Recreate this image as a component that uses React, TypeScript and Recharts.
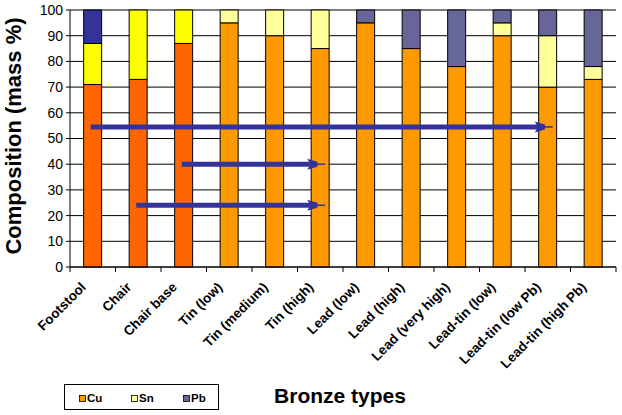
import React from 'react';
import { BarChart, Bar, XAxis, YAxis, CartesianGrid, ReferenceLine, Cell } from 'recharts';

const categories = [
  'Footstool', 'Chair', 'Chair base', 'Tin (low)', 'Tin (medium)', 'Tin (high)',
  'Lead (low)', 'Lead (high)', 'Lead (very high)', 'Lead-tin (low)', 'Lead-tin (low Pb)', 'Lead-tin (high Pb)',
];
const groups = ['object', 'object', 'object', 'ref', 'ref', 'ref', 'ref', 'ref', 'ref', 'ref', 'ref', 'ref'];
const cuValues = [71, 73, 87, 95, 90, 85, 95, 85, 78, 90, 70, 73];
const snValues = [16, 27, 13, 5, 10, 15, 0, 0, 0, 5, 20, 5];
const pbValues = [13, 0, 0, 0, 0, 0, 5, 15, 22, 5, 10, 22];
const seriesNames = ['Cu', 'Sn', 'Pb'];
const yTicks = [0, 10, 20, 30, 40, 50, 60, 70, 80, 90, 100];
const arrows = [
  { from: 'Footstool', to: 'Lead-tin (low Pb)', level: 54.5 },
  { from: 'Chair base', to: 'Tin (high)', level: 40 },
  { from: 'Chair', to: 'Tin (high)', level: 24 },
];

const palette: Record<string, Record<string, string>> = {
  object: { Cu: '#FF6600', Sn: '#FFFF00', Pb: '#333399' },
  ref: { Cu: '#FF9900', Sn: '#FFFF99', Pb: '#666699' },
};
const legendColors: Record<string, string> = { Cu: '#FF9900', Sn: '#FFFF99', Pb: '#666699' };
const ARROW = '#333399';
const FONT = 'Arial, "Liberation Sans", sans-serif';

const data = categories.map((name, i) => ({
  name,
  group: groups[i],
  Cu: cuValues[i],
  Sn: snValues[i],
  Pb: pbValues[i],
}));

const XTick = (props: any) => {
  const { x, y, payload, index, width } = props;
  const w = typeof width === 'number' && width > 0 ? width : 545;
  const band = w / categories.length;
  const left = x - band / 2;
  const ax = x - 6;
  const ay = y + 21;
  return (
    <g>
      <line x1={left} y1={y} x2={left} y2={y + 5} stroke="#000" strokeWidth={1} />
      {index === categories.length - 1 && (
        <line x1={x + band / 2} y1={y} x2={x + band / 2} y2={y + 5} stroke="#000" strokeWidth={1} />
      )}
      <text
        x={ax}
        y={ay}
        transform={`rotate(-45, ${ax}, ${ay})`}
        textAnchor="end"
        fontSize={13.5}
        fontWeight="bold"
        fontFamily={FONT}
        fill="#000"
      >
        {payload.value}
      </text>
    </g>
  );
};

const ArrowShape = (props: any) => {
  const { x1, y1, x2 } = props;
  const y = y1;
  const tip = x2 + 5;
  return (
    <g>
      <line x1={x1 - 2} y1={y} x2={tip - 8} y2={y} stroke={ARROW} strokeWidth={5} />
      <polygon
        points={`${tip - 18},${y - 5.5} ${tip - 8},${y - 2.5} ${tip - 8},${y + 2.5} ${tip - 18},${y + 5.5} ${tip - 15},${y}`}
        fill={ARROW}
      />
      <line x1={tip - 9} y1={y} x2={tip} y2={y} stroke={ARROW} strokeWidth={1.5} />
    </g>
  );
};

export default function App() {
  return (
    <div style={{ position: 'absolute', left: 0, top: 0, width: 622, height: 415, background: '#fff' }}>
      <BarChart
        width={622}
        height={415}
        data={data}
        margin={{ top: 10, right: 6, left: 0, bottom: 0 }}
        barCategoryGap="30%"
      >
        <CartesianGrid vertical={false} stroke="#000" strokeWidth={1} />
        <XAxis
          dataKey="name"
          interval={0}
          height={148}
          tickLine={false}
          tickSize={0}
          tickMargin={0}
          axisLine={{ stroke: '#000' }}
          tick={<XTick />}
        />
        <YAxis
          domain={[0, 100]}
          ticks={yTicks}
          width={70}
          tickSize={4}
          tickMargin={3}
          interval={0}
          axisLine={{ stroke: '#000' }}
          tickLine={{ stroke: '#000' }}
          tick={{ fill: '#000', fontSize: 14, fontFamily: FONT }}
        />
        <YAxis
          yAxisId="right"
          orientation="right"
          width={0}
          tick={false}
          tickLine={false}
          axisLine={{ stroke: '#808080' }}
        />
        {seriesNames.map((s) => (
          <Bar key={s} dataKey={s} stackId="a" stroke="#000" strokeWidth={1} isAnimationActive={false}>
            {data.map((d, i) => (
              <Cell key={i} fill={palette[d.group][s]} />
            ))}
          </Bar>
        ))}
        {arrows.map((a, i) => (
          <ReferenceLine
            key={i}
            segment={[
              { x: a.from, y: a.level },
              { x: a.to, y: a.level },
            ]}
            stroke={ARROW}
            shape={ArrowShape}
          />
        ))}
      </BarChart>
      <svg
        width={622}
        height={415}
        style={{ position: 'absolute', left: 0, top: 0, pointerEvents: 'none' }}
      >
        <text
          x={21}
          y={136}
          transform="rotate(-90, 21, 136)"
          textAnchor="middle"
          fontSize={22}
          fontWeight="bold"
          fontFamily={FONT}
          fill="#000"
        >
          Composition (mass %)
        </text>
        <text x={340} y={403} textAnchor="middle" fontSize={21} fontWeight="bold" fontFamily={FONT} fill="#000">
          Bronze types
        </text>
        <rect x={64.5} y={384.5} width={154} height={25} fill="#fff" stroke="#000" strokeWidth={1} />
        {seriesNames.map((s, i) => (
          <g key={s}>
            <rect x={79.5 + i * 52} y={395.5} width={6} height={6} fill={legendColors[s]} stroke="#000" strokeWidth={0.8} />
            <text x={87 + i * 52} y={402} fontSize={11.5} fontWeight="bold" fontFamily={FONT} fill="#000">
              {s}
            </text>
          </g>
        ))}
      </svg>
    </div>
  );
}
